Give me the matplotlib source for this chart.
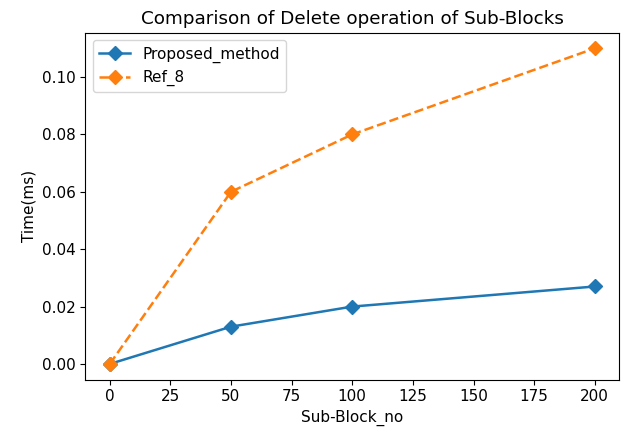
import matplotlib
matplotlib.use('Agg')
import matplotlib.pyplot as plt

sub_blocks = [0, 50, 100, 200]
proposed_method = [0.0, 0.013, 0.020, 0.027]
ref_8 = [0.0, 0.060, 0.080, 0.110]

plt.rcParams['font.size'] = 11
fig = plt.figure(figsize=(6.24, 4.34), dpi=100)
ax = fig.add_axes([0.137, 0.125, 0.855, 0.8])
ax.plot(sub_blocks, proposed_method, '-D', color='#1f77b4', lw=1.8, ms=7, label='Proposed_method')
ax.plot(sub_blocks, ref_8, '--D', color='#ff7f0e', lw=1.8, ms=7, label='Ref_8')
ax.set_xlabel('Sub-Block_no')
ax.set_ylabel('Time(ms)')
ax.set_title('Comparison of Delete operation of Sub-Blocks')
ax.set_xticks(range(0, 201, 25))
ax.legend(loc='upper left')
fig.savefig('out.png')
